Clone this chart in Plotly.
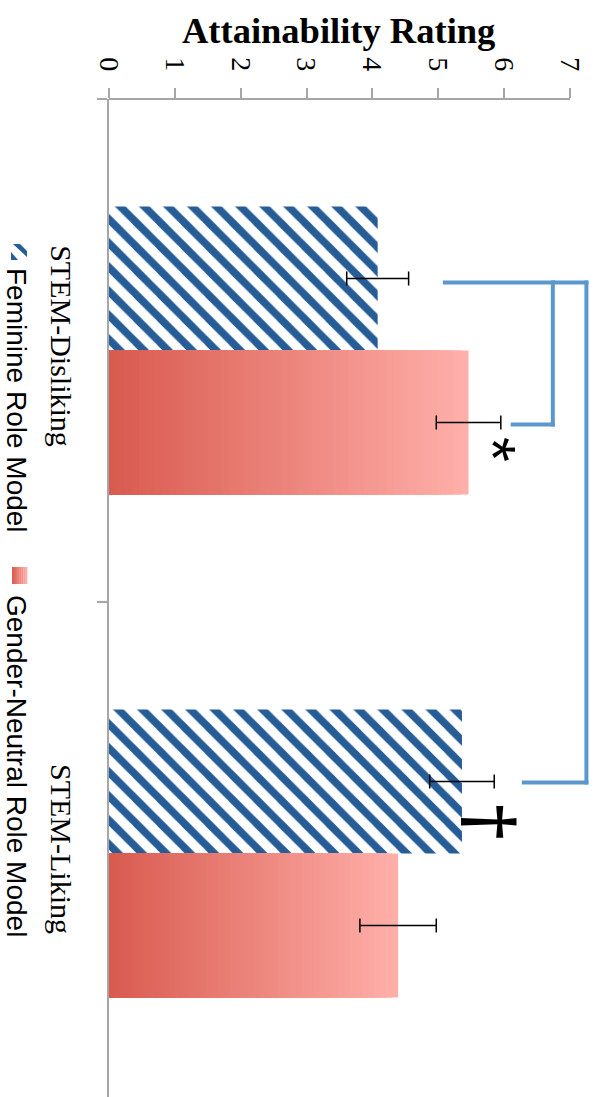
import plotly.graph_objects as go

# ---------------- data ----------------
categories = ["STEM-Disliking", "STEM-Liking"]
feminine_vals = [4.08, 5.36]
feminine_err = [0.47, 0.49]
neutral_vals = [5.46, 4.39]
neutral_err = [0.49, 0.58]
x_ticks = [0, 1, 2, 3, 4, 5, 6, 7]
series_names = ["Feminine Role Model", "Gender-Neutral Role Model"]
axis_title = "Attainability Rating"

# ---------------- layout constants ----------------
W, H = 595, 1097
ML, MR, MT, MB = 109, 2, 99, 0
XMAX = 7.35
YRANGE = [1.484, -0.5]
BAR_W = 0.2863
BLUE = "#265D96"
RED_L = (217, 90, 79)
RED_R = (255, 176, 170)
GRAY = "#A6A6A6"
BRACKET = "#5B97CD"

PW = W - ML - MR
PH = H - MT - MB


def px_x(px):
    return (px - ML) / PW


def px_y(py):
    return 1 - (py - MT) / PH


def mix(t):
    return "rgb(%d,%d,%d)" % tuple(round(a + (b - a) * t) for a, b in zip(RED_L, RED_R))


fig = go.Figure()

# feminine (hatched) bars
fig.add_trace(go.Bar(
    y=categories, x=feminine_vals, orientation="h",
    width=BAR_W, offset=-BAR_W, opacity=1,
    marker=dict(color="white", opacity=1, line=dict(width=0),
                pattern=dict(shape="\\", fgcolor=BLUE, bgcolor="white",
                             fgopacity=1, fillmode="replace",
                             size=17, solidity=0.45)),
    error_x=dict(type="data", array=feminine_err, color="black",
                 thickness=1.5, width=7),
    showlegend=False,
))

# gender-neutral bars with horizontal gradient (layered bars)
N = 48
for k in range(N, 0, -1):
    fig.add_trace(go.Bar(
        y=categories, x=[v * k / N for v in neutral_vals], orientation="h",
        width=BAR_W, offset=0, opacity=1,
        marker=dict(color=mix((k - 0.5) / N), opacity=1, line=dict(width=0)),
        showlegend=False, hoverinfo="skip",
    ))

# error bars for neutral bars
fig.add_trace(go.Bar(
    y=categories, x=neutral_vals, orientation="h",
    width=BAR_W, offset=0,
    marker=dict(color="rgba(0,0,0,0)", line=dict(width=0)),
    error_x=dict(type="data", array=neutral_err, color="black",
                 thickness=1.5, width=7),
    showlegend=False, hoverinfo="skip",
))

shapes = []
# x-axis line from 0 to 7
shapes.append(dict(type="line", xref="x", yref="paper", x0=0, x1=7, y0=1, y1=1,
                   line=dict(color=GRAY, width=2)))

# significance brackets (data-unit x, category-position y)
def seg(x0, y0, x1, y1):
    shapes.append(dict(type="line", xref="paper", yref="y",
                       x0=x0 / XMAX, x1=x1 / XMAX, y0=y0, y1=y1,
                       line=dict(color=BRACKET, width=4)))

yt = -0.135
yb1 = 0.147
yb2 = 0.859
seg(5.07, yt, 6.77, yt)
seg(6.74, yt - 0.004, 6.74, yb1 + 0.004)
seg(6.10, yb1, 6.77, yb1)
seg(6.74, yt, 7.28, yt)
seg(7.25, yt - 0.004, 7.25, yb2 + 0.004)
seg(6.27, yb2, 7.28, yb2)

# legend symbols
def pxpath(pts):
    s = "M " + " L ".join("%f,%f" % (px_x(a), px_y(b)) for a, b in pts) + " Z"
    return s

shapes.append(dict(type="path", xref="paper", yref="paper",
                   path=pxpath([(13, 244), (20, 244), (27, 251), (27, 257)]),
                   fillcolor=BLUE, line=dict(width=0)))
shapes.append(dict(type="path", xref="paper", yref="paper",
                   path=pxpath([(11, 252), (11, 260), (18, 260)]),
                   fillcolor=BLUE, line=dict(width=0)))
nseg = 8
for i in range(nseg):
    x0 = 12 + 15 * i / nseg
    x1 = 12 + 15 * (i + 1) / nseg + 0.3
    shapes.append(dict(type="rect", xref="paper", yref="paper",
                       x0=px_x(x0), x1=px_x(x1), y0=px_y(584), y1=px_y(567),
                       fillcolor=mix((i + 0.5) / nseg), line=dict(width=0)))

annotations = [
    dict(text="<b>" + axis_title + "</b>", xref="paper", yref="paper",
         x=px_x(338), y=px_y(31), xanchor="center", yanchor="middle",
         showarrow=False, font=dict(family="Liberation Serif", size=36.5, color="black")),
    dict(text=series_names[0], xref="paper", yref="paper", textangle=90,
         x=px_x(17), y=px_y(400), xanchor="center", yanchor="middle",
         showarrow=False, font=dict(family="Liberation Sans", size=28, color="black")),
    dict(text=series_names[1], xref="paper", yref="paper", textangle=90,
         x=px_x(17), y=px_y(766), xanchor="center", yanchor="middle",
         showarrow=False, font=dict(family="Liberation Sans", size=28, color="black")),
    dict(text="*", xref="paper", yref="paper", textangle=90,
         x=px_x(492), y=px_y(449), xanchor="center", yanchor="middle",
         showarrow=False, font=dict(family="Liberation Sans", size=64, color="black")),
    dict(text="<b>†</b>", xref="paper", yref="paper", textangle=90,
         x=px_x(491), y=px_y(822), xanchor="center", yanchor="middle",
         showarrow=False, font=dict(family="DejaVu Serif", size=68, color="black")),
]

fig.update_layout(
    width=W, height=H,
    margin=dict(l=ML, r=MR, t=MT, b=MB, pad=0),
    paper_bgcolor="white", plot_bgcolor="white",
    barmode="overlay",
    showlegend=False,
    xaxis=dict(range=[0, XMAX], side="top", tickvals=x_ticks, ticktext=[str(t) for t in x_ticks],
               tickangle=90, ticks="outside", ticklen=10, tickwidth=2, tickcolor=GRAY,
               ticklabelstandoff=7,
               showline=False, showgrid=False, zeroline=False,
               tickfont=dict(family="Liberation Serif", size=28, color="black")),
    yaxis=dict(type="category", categoryorder="array", categoryarray=categories,
               range=YRANGE, tickangle=90, ticks="outside", tickson="boundaries",
               ticklen=10, tickwidth=2, tickcolor=GRAY, ticklabelstandoff=20,
               showline=True, linecolor=GRAY, linewidth=2,
               showgrid=False, zeroline=False,
               tickfont=dict(family="Liberation Serif", size=30, color="black")),
    shapes=shapes,
    annotations=annotations,
)

fig.write_html("out.html")
